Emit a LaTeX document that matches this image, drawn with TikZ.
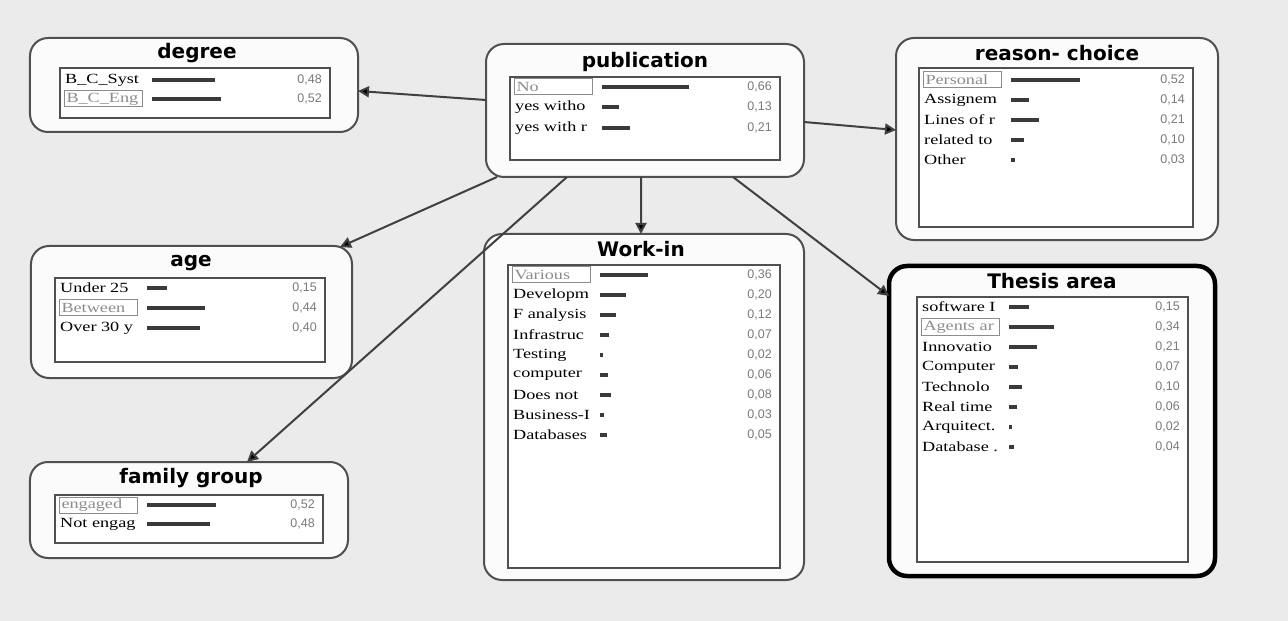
\documentclass[tikz,border=0pt]{standalone}
\usepackage{fontspec}
\usetikzlibrary{arrows.meta}
\newfontfamily\rowfont[FakeStretch=1.3]{Liberation Serif}
\newfontfamily\valfont{Liberation Sans}
\newfontfamily\titlefont{DejaVu Sans}
\definecolor{bgc}{HTML}{EBEBEB}
\definecolor{boxfill}{HTML}{FBFBFB}
\definecolor{boxline}{HTML}{505050}
\definecolor{framegray}{HTML}{8C8C8C}
\definecolor{valgray}{HTML}{7A7A7A}
\definecolor{barc}{HTML}{3A3A3A}
\definecolor{edgec}{HTML}{404040}
\tikzset{
  outerbox/.style={draw=boxline, line width=2bp, fill=boxfill, rounded corners=18bp, inner sep=0, outer sep=0},
  innerbox/.style={draw=boxline, line width=2.5bp, fill=white, inner sep=0, outer sep=0},
  titlelab/.style={font=\titlefont\bfseries\fontsize{20bp}{22bp}\selectfont, inner sep=0},
  rowlab/.style={font=\rowfont\fontsize{14bp}{15bp}\selectfont, inner sep=0, anchor=west},
  framedlab/.style={font=\rowfont\fontsize{14bp}{15bp}\selectfont, text=framegray, draw=framegray, line width=1bp, anchor=west, text width=74bp, align=left, inner xsep=2bp, inner ysep=0, minimum height=16bp},
  rowval/.style={font=\valfont\fontsize{12.5bp}{13bp}\selectfont, text=valgray, inner sep=0, anchor=east},
  barline/.style={draw=barc, line width=4bp},
  edge/.style={draw=edgec, line width=2bp, -{Triangle[length=11bp,width=11bp,fill=black]}}
}
% #1 name, #2 inner left x, #3 inner right x, #4 y, #5 label, #6 prob, #7 value text, #8 framed (1) or not (0)
\newcommand\bnrow[8]{%
  \pgfmathsetmacro\barlen{max(#6*132,3)}%
  \ifnum#8=1
    \node[framedlab] (#1-l) at (#2+4,#4) {#5};
  \else
    \node[rowlab] (#1-l) at (#2+5,#4) {#5};
  \fi
  \draw[barline] (#2+92,#4) -- ++(\barlen,0);
  \node[rowval] (#1-v) at (#3-8,#4) {#7};
}
\begin{document}
\begin{tikzpicture}[x=1bp,y=-1bp]
\useasboundingbox (0,0) rectangle (1288,621);
\fill[bgc] (0,0) rectangle (1288,621);

% outer boxes
\node[outerbox, minimum width=328bp, minimum height=94bp] (deg) at (194,85) {};
\node[outerbox, minimum width=318bp, minimum height=133bp] (pub) at (645,110.5) {};
\node[outerbox, minimum width=322bp, minimum height=202bp] (rea) at (1057,139) {};
\node[outerbox, minimum width=321bp, minimum height=132bp] (age) at (191.5,312) {};
\node[outerbox, minimum width=320bp, minimum height=346bp] (wrk) at (644,407) {};
\node[outerbox, draw=black, line width=4.5bp, minimum width=326bp, minimum height=310bp] (the) at (1052,421) {};
\node[outerbox, minimum width=318bp, minimum height=96bp] (fam) at (189,510) {};

% titles
\node[titlelab] (deg-t) at (197,53) {degree};
\node[titlelab] (pub-t) at (645,62) {publication};
\node[titlelab] (rea-t) at (1057,53) {reason- choice};
\node[titlelab] (age-t) at (191,263) {age};
\node[titlelab] (wrk-t) at (641,249) {Work-in};
\node[titlelab] (the-t) at (1052,281) {Thesis area};
\node[titlelab] (fam-t) at (191,478) {family group};

% inner boxes
\node[innerbox, minimum width=270bp, minimum height=50bp] (deg-i) at (195,93) {};
\node[innerbox, minimum width=270bp, minimum height=83bp] (pub-i) at (645,118.5) {};
\node[innerbox, minimum width=274bp, minimum height=159bp] (rea-i) at (1056,147.5) {};
\node[innerbox, minimum width=270bp, minimum height=84bp] (age-i) at (190,320) {};
\node[innerbox, minimum width=272bp, minimum height=303bp] (wrk-i) at (644,416.5) {};
\node[innerbox, minimum width=271bp, minimum height=265bp] (the-i) at (1052.5,429.5) {};
\node[innerbox, minimum width=268bp, minimum height=48bp] (fam-i) at (189,519) {};

% rows: degree
\bnrow{deg1}{60}{330}{80}{B\_C\_Syst}{0.48}{0,48}{0}
\bnrow{deg2}{60}{330}{99}{B\_C\_Eng}{0.52}{0,52}{1}
% publication
\bnrow{pub1}{510}{780}{87}{No}{0.66}{0,66}{1}
\bnrow{pub2}{510}{780}{107}{yes witho}{0.13}{0,13}{0}
\bnrow{pub3}{510}{780}{128}{yes with r}{0.21}{0,21}{0}
% reason-choice
\bnrow{rea1}{919}{1193}{80}{Personal}{0.52}{0,52}{1}
\bnrow{rea2}{919}{1193}{100}{Assignem}{0.14}{0,14}{0}
\bnrow{rea3}{919}{1193}{120}{Lines of r}{0.21}{0,21}{0}
\bnrow{rea4}{919}{1193}{140}{related to}{0.10}{0,10}{0}
\bnrow{rea5}{919}{1193}{160}{Other}{0.03}{0,03}{0}
% age
\bnrow{age1}{55}{325}{288}{Under 25}{0.15}{0,15}{0}
\bnrow{age2}{55}{325}{308}{Between}{0.44}{0,44}{1}
\bnrow{age3}{55}{325}{328}{Over 30 y}{0.40}{0,40}{0}
% work-in
\bnrow{wrk1}{508}{780}{275}{Various}{0.36}{0,36}{1}
\bnrow{wrk2}{508}{780}{295}{Developm}{0.20}{0,20}{0}
\bnrow{wrk3}{508}{780}{315}{F analysis}{0.12}{0,12}{0}
\bnrow{wrk4}{508}{780}{335}{Infrastruc}{0.07}{0,07}{0}
\bnrow{wrk5}{508}{780}{355}{Testing}{0.02}{0,02}{0}
\bnrow{wrk6}{508}{780}{375}{computer}{0.06}{0,06}{0}
\bnrow{wrk7}{508}{780}{395}{Does not}{0.08}{0,08}{0}
\bnrow{wrk8}{508}{780}{415}{Business-I}{0.03}{0,03}{0}
\bnrow{wrk9}{508}{780}{435}{Databases}{0.05}{0,05}{0}
% thesis area
\bnrow{the1}{917}{1188}{307}{software I}{0.15}{0,15}{0}
\bnrow{the2}{917}{1188}{327}{Agents ar}{0.34}{0,34}{1}
\bnrow{the3}{917}{1188}{347}{Innovatio}{0.21}{0,21}{0}
\bnrow{the4}{917}{1188}{367}{Computer}{0.07}{0,07}{0}
\bnrow{the5}{917}{1188}{387}{Technolo}{0.10}{0,10}{0}
\bnrow{the6}{917}{1188}{407}{Real time}{0.06}{0,06}{0}
\bnrow{the7}{917}{1188}{427}{Arquitect.}{0.02}{0,02}{0}
\bnrow{the8}{917}{1188}{447}{Database .}{0.04}{0,04}{0}
% family group
\bnrow{fam1}{55}{323}{505}{engaged}{0.52}{0,52}{1}
\bnrow{fam2}{55}{323}{524}{Not engag}{0.48}{0,48}{0}

% edges
\draw[edge] ([yshift=10.5bp]pub.west) -- ([yshift=-6bp]deg.east);
\draw[edge] ([yshift=-11.5bp]pub.east) -- ([yshift=9bp]rea.west);
\draw[edge] ([xshift=-148bp]pub.south) -- ([xshift=-12bp,yshift=-1bp]age.north east);
\draw[edge] ([xshift=-4bp]pub.south) -- ([xshift=-3bp]wrk.north);
\draw[edge] ([xshift=88bp]pub.south) -- ([yshift=125bp]the.west);
\draw[edge] ([xshift=-78bp]pub.south) -- ([xshift=58bp]fam.north);
\end{tikzpicture}
\end{document}
